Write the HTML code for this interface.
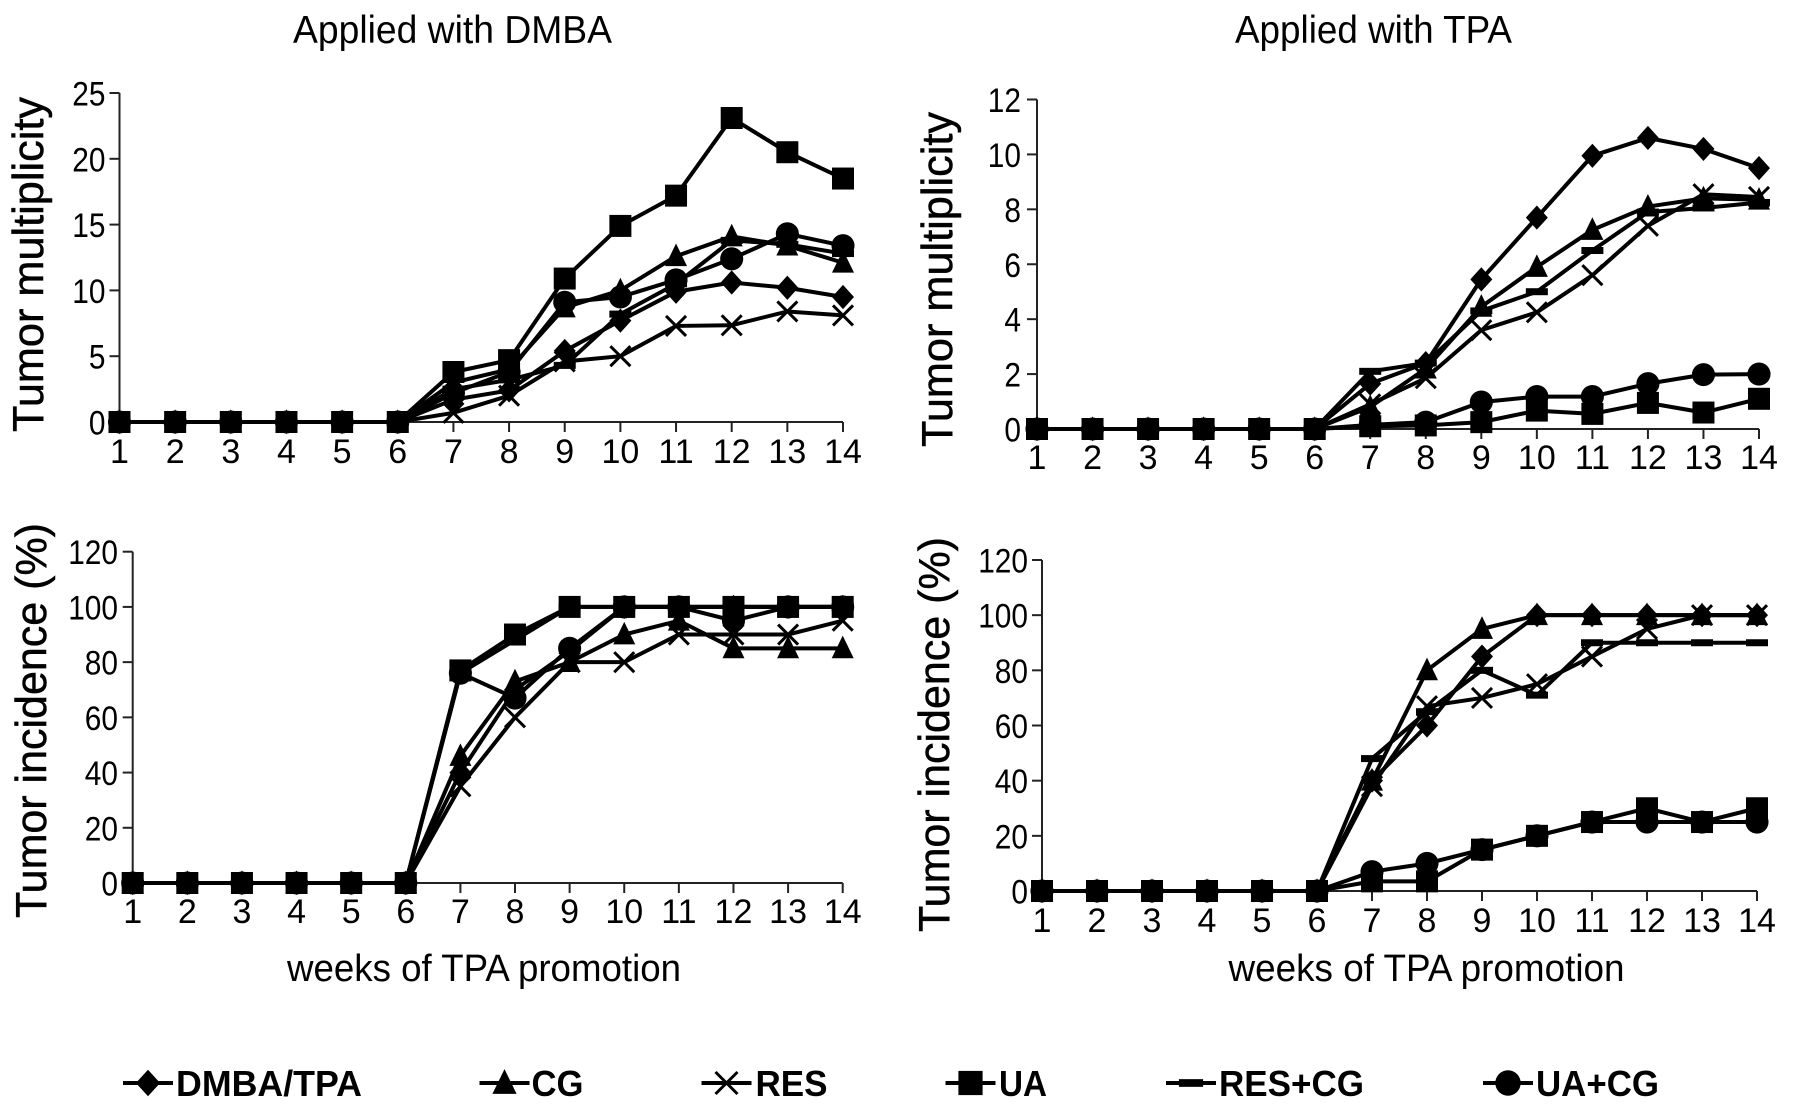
<!DOCTYPE html>
<html lang="en">
<head>
<meta charset="utf-8">
<title>Tumor multiplicity and incidence</title>
<style>
html,body{margin:0;padding:0;background:#fff;width:1795px;height:1111px;overflow:hidden}
svg{display:block}
text{font-family:"Liberation Sans",Arial,sans-serif;fill:#000}
</style>
</head>
<body>
<svg id="figure" xmlns="http://www.w3.org/2000/svg" width="1795" height="1111" viewBox="0 0 1795 1111">
  <rect x="0" y="0" width="1795" height="1111" fill="#fff"/>
  <text x="293" y="43" font-size="39" textLength="319" lengthAdjust="spacingAndGlyphs" fill="#111">Applied with DMBA</text>
  <text x="1235" y="43" font-size="39" textLength="277" lengthAdjust="spacingAndGlyphs" fill="#111">Applied with TPA</text>
  <text x="287" y="981" font-size="38" textLength="394" lengthAdjust="spacingAndGlyphs" fill="#111">weeks of TPA promotion</text>
  <text x="1228.5" y="981" font-size="38" textLength="396" lengthAdjust="spacingAndGlyphs" fill="#111">weeks of TPA promotion</text>
</svg>
<script>
// ---- shared categories and series names ----
const weeks = [1,2,3,4,5,6,7,8,9,10,11,12,13,14];
const seriesNames = ['DMBA/TPA','CG','RES','UA','RES+CG','UA+CG'];
const markerKinds = ['diamond','triangle','cross','square','dash','circle'];

// ---- tick labels ----
const multTicksLeft = [0,5,10,15,20,25];
const multTicksRight = [0,2,4,6,8,10,12];
const incidenceTicks = [0,20,40,60,80,100,120];

// ---- Applied with DMBA: tumor multiplicity ----
const multDmbaDmbaTpa = [0,0,0,0,0,0,1.7,2.4,5.4,7.7,9.9,10.6,10.2,9.5];
const multDmbaCg      = [0,0,0,0,0,0,3.0,4.0,8.7,10.0,12.6,14.1,13.4,12.1];
const multDmbaRes     = [0,0,0,0,0,0,0.7,2.0,4.6,5.0,7.3,7.35,8.4,8.1];
const multDmbaUa      = [0,0,0,0,0,0,3.8,4.7,10.9,14.9,17.2,23.1,20.5,18.5];
const multDmbaResCg   = [0,0,0,0,0,0,2.5,3.2,4.3,8.2,10.5,13.8,13.5,12.8];
const multDmbaUaCg    = [0,0,0,0,0,0,2.2,3.8,9.1,9.5,10.8,12.4,14.3,13.4];

// ---- Applied with TPA: tumor multiplicity ----
const multTpaDmbaTpa = [0,0,0,0,0,0,1.65,2.4,5.45,7.7,9.95,10.6,10.2,9.5];
const multTpaCg      = [0,0,0,0,0,0,0.8,2.2,4.45,5.9,7.25,8.1,8.4,8.35];
const multTpaRes     = [0,0,0,0,0,0,0.9,1.85,3.6,4.25,5.6,7.4,8.55,8.45];
const multTpaUa      = [0,0,0,0,0,0,0.1,0.13,0.25,0.67,0.55,0.95,0.6,1.1];
const multTpaResCg   = [0,0,0,0,0,0,2.1,2.4,4.3,5.0,6.5,7.9,8.05,8.25];
const multTpaUaCg    = [0,0,0,0,0,0,0.15,0.25,0.98,1.18,1.18,1.65,1.98,2.0];

// ---- Applied with DMBA: tumor incidence ----
const incDmbaDmbaTpa = [0,0,0,0,0,0,40,70,84,100,100,100,100,100];
const incDmbaCg      = [0,0,0,0,0,0,46,73,80,90,95,85,85,85];
const incDmbaRes     = [0,0,0,0,0,0,35,60,80,80,90,90,90,95];
const incDmbaUa      = [0,0,0,0,0,0,77,90,100,100,100,100,100,100];
const incDmbaResCg   = [0,0,0,0,0,0,76,88,100,100,100,100,100,100];
const incDmbaUaCg    = [0,0,0,0,0,0,76,67,85,100,100,95,100,100];

// ---- Applied with TPA: tumor incidence ----
const incTpaDmbaTpa = [0,0,0,0,0,0,40,60,85,100,100,100,100,100];
const incTpaCg      = [0,0,0,0,0,0,40,80,95,100,100,100,100,100];
const incTpaRes     = [0,0,0,0,0,0,38,67,70,75,85,95,100,100];
const incTpaUa      = [0,0,0,0,0,0,3.5,3.5,15,20,25,30,25,30];
const incTpaResCg   = [0,0,0,0,0,0,48,65,80,71,90,90,90,90];
const incTpaUaCg    = [0,0,0,0,0,0,7,10,15,20,25,25,25,25];

const svg = document.getElementById('figure');
const NS = 'http://www.w3.org/2000/svg';

function make(tag, attrs, parent) {
  const el = document.createElementNS(NS, tag);
  for (const k in attrs) el.setAttribute(k, attrs[k]);
  parent.appendChild(el);
  return el;
}
function slug(s) {
  return s.toLowerCase().replace(/[^a-z0-9]+/g, '-');
}

function drawMarker(kind, cx, cy, s, parent) {
  const r = 11 * s;
  let el;
  if (kind === 'square') {
    el = make('rect', {x: cx - r, y: cy - r, width: 2 * r, height: 2 * r, fill: '#000'}, parent);
  } else if (kind === 'circle') {
    el = make('circle', {cx: cx, cy: cy, r: r * 1.05, fill: '#000'}, parent);
  } else if (kind === 'diamond') {
    const h = r * 1.1;
    el = make('polygon', {points: [cx, cy - h, cx + r, cy, cx, cy + h, cx - r, cy].join(' '), fill: '#000'}, parent);
  } else if (kind === 'triangle') {
    el = make('polygon', {points: [cx, cy - r * 1.15, cx + r, cy + r * 0.9, cx - r, cy + r * 0.9].join(' '), fill: '#000'}, parent);
  } else if (kind === 'dash') {
    el = make('rect', {x: cx - r, y: cy - 3.5 * s, width: 2 * r, height: 7 * s, fill: '#000'}, parent);
  } else {
    const d = 10 * s;
    el = make('path', {d: 'M' + (cx - d) + ' ' + (cy - d) + 'L' + (cx + d) + ' ' + (cy + d) + 'M' + (cx + d) + ' ' + (cy - d) + 'L' + (cx - d) + ' ' + (cy + d), stroke: '#000', 'stroke-width': 3, fill: 'none'}, parent);
  }
  return el;
}

function drawPanel(p) {
  const group = make('g', {}, svg);
  
  

  const xScale = function (w) {
    return p.x1 + (w - weeks[0]) / (weeks[weeks.length - 1] - weeks[0]) * (p.x14 - p.x1);
  };
  const yScale = function (v) {
    return p.y0 - v / p.yMax * (p.y0 - p.yTop);
  };

  const yAxis = make('line', {x1: p.x1, x2: p.x1, y1: yScale(p.yMax), y2: p.y0, stroke: '#222', 'stroke-width': 2}, group);
  
  
  const xAxis = make('line', {x1: p.x1, x2: p.x14, y1: p.y0, y2: p.y0, stroke: '#222', 'stroke-width': 2}, group);
  
  

  p.yTicks.forEach(function (t) {
    const tick = make('line', {x1: p.x1 - 10, x2: p.x1, y1: yScale(t), y2: yScale(t), stroke: '#222', 'stroke-width': 2}, group);
    
    
    const chars = String(t).length;
    const label = make('text', {x: p.yLabelRight - chars * 16.6, y: yScale(t) + 12.5, 'font-size': 34, textLength: chars * 16.6, lengthAdjust: 'spacingAndGlyphs'}, group);
    label.textContent = t;
    
    
  });

  weeks.forEach(function (w) {
    const tick = make('line', {x1: xScale(w), x2: xScale(w), y1: p.y0, y2: p.y0 + 10, stroke: '#222', 'stroke-width': 2}, group);
    
    
    const label = make('text', {x: xScale(w), y: p.xLabelY, 'font-size': 34, 'text-anchor': 'middle'}, group);
    label.textContent = w;
    
    
  });

  const title = make('text', {transform: 'translate(' + p.titleX + ',' + p.titleBottom + ') rotate(-90)', 'font-size': 44, textLength: p.titleLen, lengthAdjust: 'spacingAndGlyphs', stroke: '#000', 'stroke-width': 0.5}, group);
  title.textContent = p.title;
  
  

  p.series.forEach(function (values, i) {
    const seriesGroup = make('g', {}, group);
    
    
    const pts = weeks.map(function (w, j) {
      return xScale(w) + ',' + yScale(values[j]);
    }).join(' ');
    const line = make('polyline', {points: pts, fill: 'none', stroke: '#000', 'stroke-width': 4, 'stroke-linejoin': 'miter'}, seriesGroup);
    
    
    weeks.forEach(function (w, j) {
      const m = drawMarker(markerKinds[i], xScale(w), yScale(values[j]), 1, seriesGroup);
      
      
    });
  });
}

drawPanel({name: 'chart-multiplicity-dmba', title: 'Tumor multiplicity', titleX: 43, titleBottom: 432, titleLen: 335,
  x1: 119.5, x14: 843, y0: 422, yTop: 93, yMax: 25, yTicks: multTicksLeft, yLabelRight: 105.5, xLabelY: 463,
  series: [multDmbaDmbaTpa, multDmbaCg, multDmbaRes, multDmbaUa, multDmbaResCg, multDmbaUaCg]});

drawPanel({name: 'chart-multiplicity-tpa', title: 'Tumor multiplicity', titleX: 952, titleBottom: 447, titleLen: 335,
  x1: 1037, x14: 1759, y0: 429, yTop: 99.5, yMax: 12, yTicks: multTicksRight, yLabelRight: 1021, xLabelY: 469,
  series: [multTpaDmbaTpa, multTpaCg, multTpaRes, multTpaUa, multTpaResCg, multTpaUaCg]});

drawPanel({name: 'chart-incidence-dmba', title: 'Tumor incidence (%)', titleX: 46, titleBottom: 918, titleLen: 395,
  x1: 132.7, x14: 842.7, y0: 883, yTop: 551.7, yMax: 120, yTicks: incidenceTicks, yLabelRight: 118, xLabelY: 923,
  series: [incDmbaDmbaTpa, incDmbaCg, incDmbaRes, incDmbaUa, incDmbaResCg, incDmbaUaCg]});

drawPanel({name: 'chart-incidence-tpa', title: 'Tumor incidence (%)', titleX: 949, titleBottom: 932, titleLen: 395,
  x1: 1042, x14: 1757, y0: 891, yTop: 560, yMax: 120, yTicks: incidenceTicks, yLabelRight: 1028, xLabelY: 932,
  series: [incTpaDmbaTpa, incTpaCg, incTpaRes, incTpaUa, incTpaResCg, incTpaUaCg]});

// ---- legend ----
const legendGroup = make('g', {}, svg);


[[123, 176, 186], [479.5, 531.5, 52], [701.5, 755.5, 72], [945.5, 999, 48], [1166, 1219, 145], [1483, 1536, 123]].forEach(function (pos, i) {
  const entry = make('g', {}, legendGroup);
  
  
  const line = make('line', {x1: pos[0], x2: pos[0] + 50, y1: 1083, y2: 1083, stroke: '#000', 'stroke-width': 4}, entry);
  
  
  const m = drawMarker(markerKinds[i], pos[0] + 25, 1083, 1.1, entry);
  
  
  const label = make('text', {x: pos[1], y: 1096, 'font-size': 36, 'font-weight': 'bold', textLength: pos[2], lengthAdjust: 'spacingAndGlyphs'}, entry);
  label.textContent = seriesNames[i];
  
  
});
</script>
</body>
</html>
